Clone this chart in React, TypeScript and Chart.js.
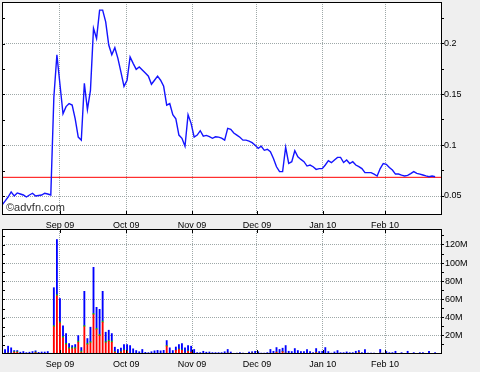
import React, { useEffect, useRef } from "react";
import { Chart, registerables } from "chart.js";
Chart.register(...registerables);

// Daily closing price (one value per trading day, Aug 09 .. Feb 10)
const closePrices: number[] = [
  0.041, 0.045, 0.049, 0.054, 0.05, 0.053, 0.052, 0.051, 0.049, 0.051,
  0.0527, 0.05, 0.0505, 0.051, 0.0527, 0.052, 0.051, 0.147, 0.189, 0.16,
  0.131, 0.138, 0.141, 0.1396, 0.126, 0.108, 0.105, 0.161, 0.135, 0.154,
  0.215, 0.205, 0.233, 0.233, 0.2215, 0.1986, 0.189, 0.196, 0.1855, 0.172,
  0.158, 0.164, 0.187, 0.1806, 0.1747, 0.177, 0.174, 0.171, 0.168, 0.16,
  0.164, 0.168, 0.164, 0.158, 0.1395, 0.141, 0.13, 0.126, 0.11, 0.1068,
  0.099, 0.13, 0.1215, 0.108, 0.11, 0.1143, 0.109, 0.1097, 0.1085, 0.1068,
  0.1083, 0.108, 0.107, 0.105, 0.1166, 0.1156, 0.112, 0.11, 0.1078, 0.105,
  0.105, 0.104, 0.1025, 0.1, 0.097, 0.099, 0.095, 0.096, 0.0936, 0.087,
  0.0788, 0.074, 0.074, 0.098, 0.082, 0.0838, 0.0946, 0.0887, 0.086, 0.0838,
  0.0795, 0.0805, 0.0788, 0.0762, 0.077, 0.077, 0.0805, 0.0848, 0.0828, 0.0855,
  0.088, 0.088, 0.083, 0.0855, 0.082, 0.0838, 0.0805, 0.079, 0.077, 0.073,
  0.073, 0.073, 0.0715, 0.0697, 0.077, 0.082, 0.0812, 0.078, 0.0756, 0.0716,
  0.0716, 0.0705, 0.0697, 0.0703, 0.072, 0.074, 0.0723, 0.0715, 0.0707, 0.0698,
  0.069, 0.0697, 0.069,
];

// Daily volume, millions (total, red part, green part)
const volTotal: number[] = [
  5, 5, 8.6, 6.8, 3.8, 3.8, 2, 2.7, 1.5, 2,
  2.7, 3.5, 1.8, 2.2, 2.2, 2.7, 0.8, 73, 126, 61,
  31, 22.5, 11.5, 9.3, 10.4, 20.3, 7.1, 69, 17, 29.5,
  95.4, 51.4, 49.2, 69, 24, 26.2, 22.5, 7.5, 5, 6.4,
  10.4, 10.4, 9.3, 5.7, 3.8, 2.5, 5, 1.8, 1.5, 2.5,
  3.5, 4, 3.5, 4, 14.8, 6.8, 3.8, 7.7, 10.4, 11.5,
  6.8, 9.3, 8.6, 5, 1.5, 1.5, 3, 2, 2.2, 1.5,
  1.5, 1.5, 1.5, 2.5, 5, 2.2, 0.8, 1, 1.5, 1,
  0, 2, 2.5, 3, 2.5, 1, 1, 1.5, 5, 3,
  7.1, 5, 6.4, 9.3, 3, 2.7, 6, 3.8, 2.7, 2.7,
  5, 2.7, 1.5, 6, 2.7, 3, 7.1, 2.7, 1, 2.3,
  3.8, 1.5, 1.5, 2.3, 1.5, 1.5, 3, 3.8, 1.5, 5,
  1, 1, 1, 0, 5, 1, 2.7, 1.5, 1.5, 3,
  0, 1.5, 0, 3, 0, 1.5, 0, 1.5, 1.5, 0,
  3, 0, 1.5,
];
const volRed: number[] = [
  1, 0.5, 1, 1, 2, 2, 0, 0, 0, 0,
  0, 1.5, 0, 0, 0, 0, 0, 30, 64, 34,
  17.8, 10.4, 5.7, 5.7, 6, 13, 2, 30, 10.4, 12.3,
  43.4, 27, 20.3, 35, 12.3, 14, 13, 2, 0, 2,
  4, 3, 0, 0, 0, 0, 0, 0, 0, 0,
  0, 0, 0, 0, 8.6, 0, 0, 4, 5, 4,
  1, 3, 2, 0, 0, 0, 0, 0, 0, 0,
  0, 0, 0, 0, 1, 0, 0, 0, 0, 0,
  0, 0, 1, 0, 0, 0, 0, 0, 0, 0,
  2, 0, 2.5, 1, 0, 0, 0, 0, 0, 0,
  0, 0, 0, 1.5, 0, 0, 0, 0, 0, 0,
  0, 0, 0, 0, 0, 0, 0, 1.5, 0, 0,
  0, 0, 0, 0, 1, 0, 0, 0, 0, 0,
  0, 0, 0, 0, 0, 0, 0, 0, 0, 0,
  0, 0, 0,
];
const volGreen: number[] = [
  0, 0, 0, 0, 0.6, 0.6, 0, 0, 0, 0,
  0, 0.6, 0, 0, 0, 0, 0, 1.3, 1.3, 1.3,
  1.3, 1.3, 1.3, 1.3, 1.3, 1.3, 1.3, 1.3, 1.3, 1.3,
  1.3, 1.3, 1.3, 1.3, 1.3, 1.3, 1.3, 0.6, 0, 0.6,
  0.6, 0.6, 0, 0, 0, 0, 0, 0, 0, 0,
  0, 0, 0, 0, 0.8, 0, 0, 0, 0.6, 0.6,
  0, 0.6, 0, 0, 0, 0, 0, 0, 0, 0,
  0, 0, 0, 0, 0, 0, 0, 0, 0, 0,
  0, 0, 0, 0, 0, 0, 0, 0, 0, 0,
  0, 0, 0, 0, 0, 0, 0, 0, 0, 0,
  0, 0, 0, 0, 0, 0, 0, 0, 0, 0,
  0, 0, 0, 0, 0, 0, 0, 0, 0, 0,
  0, 0, 0, 0, 0, 0, 0, 0, 0, 0,
  0, 0, 0, 0, 0, 0, 0, 0, 0, 0,
  0, 0, 0,
];

const lastPrice = 0.0684;
const monthLabels = ["Sep 09", "Oct 09", "Nov 09", "Dec 09", "Jan 10", "Feb 10"];
const monthStartIndex = [19.0, 40.7, 62.3, 83.6, 105.2, 125.6];
const priceMajorTicks = [0.05, 0.1, 0.15, 0.2];
const priceMinorTicks = [0.075, 0.125, 0.175, 0.225];
const volMajorTicks = [20, 40, 60, 80, 100, 120];
const volMinorTicks = [10, 30, 50, 70, 90, 110, 130];

const X_MAX = 144.26;
const PRICE_MIN = 0.0313;
const PRICE_MAX = 0.241;
const VOL_MAX = 137.6;

const FONT = { family: "'Liberation Sans', Arial, sans-serif", size: 9 };
const GRID = "#9ea8a8";
const CLEAR = "rgba(0,0,0,0)";

const setMonthTicks = (s: any) => {
  s.ticks = monthStartIndex.map((v) => ({ value: v }));
};
const noPadX = (h: number) => (s: any) => {
  s.height = h;
  s.paddingLeft = 0;
  s.paddingRight = 0;
};
const noPadY = (s: any) => {
  s.width = 38;
  s.paddingTop = 0;
  s.paddingBottom = 0;
};

const framePlugin = {
  id: "frame",
  beforeDraw(chart: any) {
    const { ctx, chartArea: a } = chart;
    ctx.save();
    ctx.fillStyle = "#ffffff";
    ctx.fillRect(a.left, a.top, a.right - a.left, a.bottom - a.top);
    ctx.restore();
  },
  afterDraw(chart: any, _args: any, opts: any) {
    const { ctx, chartArea: a } = chart;
    ctx.save();
    ctx.strokeStyle = "#000";
    ctx.lineWidth = 1;
    ctx.strokeRect(a.left + 0.5, a.top + 0.5, a.right - a.left - 1, a.bottom - a.top - 1);
    const xs = chart.scales.x;
    const ys = chart.scales.y;
    ctx.beginPath();
    for (const v of monthStartIndex) {
      const px = Math.round(xs.getPixelForValue(v)) + 0.5;
      if (opts.bottomTicks) {
        ctx.moveTo(px, a.bottom);
        ctx.lineTo(px, a.bottom - 4);
      }
      if (opts.topTicks) {
        ctx.moveTo(px, a.top);
        ctx.lineTo(px, a.top + 4);
      }
    }
    for (const v of opts.leftTicks || []) {
      const py = Math.round(ys.getPixelForValue(v)) + 0.5;
      ctx.moveTo(a.left, py);
      ctx.lineTo(a.left + 3, py);
    }
    ctx.stroke();
    if (opts.watermark) {
      ctx.fillStyle = "#333";
      ctx.font = "11px 'Liberation Sans', Arial, sans-serif";
      ctx.textBaseline = "alphabetic";
      ctx.textAlign = "left";
      ctx.fillText(opts.watermark, a.left + 4, a.bottom - 4);
    }
    ctx.restore();
  },
};

const monthAxis = (position: string, height: number, padding: number, showGrid: boolean) => ({
  type: "linear",
  display: true,
  position,
  offset: false,
  min: 0,
  max: X_MAX,
  afterBuildTicks: setMonthTicks,
  afterFit: noPadX(height),
  grid: { display: showGrid, offset: false, color: GRID, drawTicks: false },
  border: { display: false, dash: [1, 1] },
  ticks: {
    autoSkip: false,
    maxRotation: 0,
    minRotation: 0,
    padding,
    color: "#000",
    font: FONT,
    callback: (_v: any, i: number) => monthLabels[i],
  },
});

export default function App() {
  const priceRef = useRef<HTMLCanvasElement>(null);
  const volRef = useRef<HTMLCanvasElement>(null);

  useEffect(() => {
    const priceAll = [...priceMajorTicks, ...priceMinorTicks].sort((a, b) => a - b);
    const volAll = [...volMajorTicks, ...volMinorTicks].sort((a, b) => a - b);

    const c1 = new Chart(priceRef.current as HTMLCanvasElement, {
      type: "line",
      data: {
        datasets: [
          {
            data: closePrices.map((v, i) => ({ x: i, y: v })),
            borderColor: "#1414ff",
            borderWidth: 1.4,
            pointRadius: 0,
            tension: 0,
            order: 0,
          },
          {
            data: [
              { x: 0, y: lastPrice },
              { x: X_MAX, y: lastPrice },
            ],
            borderColor: "#ff0000",
            borderWidth: 1,
            pointRadius: 0,
            order: 1,
          },
        ],
      },
      options: {
        animation: false,
        responsive: false,
        devicePixelRatio: 1,
        events: [],
        layout: { padding: { left: 2, top: 2, right: 0, bottom: 3 } },
        plugins: {
          legend: { display: false },
          tooltip: { enabled: false },
          frame: { bottomTicks: true, topTicks: false, leftTicks: priceAll, watermark: "©advfn.com" },
        } as any,
        scales: {
          x: { ...monthAxis("bottom", 0, 0, true), ticks: { display: false } },
          y: {
            type: "linear",
            position: "right",
            min: PRICE_MIN,
            max: PRICE_MAX,
            afterBuildTicks: (s: any) => {
              s.ticks = priceAll.map((v) => ({ value: v }));
            },
            afterFit: noPadY,
            grid: {
              color: (c: any) => (c.tick && priceMajorTicks.includes(c.tick.value) ? GRID : CLEAR),
              tickColor: "#000",
              tickLength: 2,
              drawTicks: true,
            },
            border: { display: false, dash: [1, 1] },
            ticks: {
              autoSkip: false,
              padding: 0,
              color: "#000",
              font: FONT,
              callback: (v: any) => (priceMajorTicks.includes(v) ? String(Number(v.toFixed(3))) : ""),
            },
          },
        },
      },
      plugins: [framePlugin],
    } as any);

    const c2 = new Chart(volRef.current as HTMLCanvasElement, {
      type: "bar",
      data: {
        datasets: [
          {
            data: volRed.map((v, i) => ({ x: i, y: v })),
            backgroundColor: "#ff0000",
          },
          {
            data: volGreen.map((v, i) => ({ x: i, y: v })),
            backgroundColor: "#00c000",
          },
          {
            data: volTotal.map((v, i) => ({ x: i, y: Math.max(0, v - volRed[i] - volGreen[i]) })),
            backgroundColor: "#0000ff",
          },
        ].map((d) => ({ ...d, barThickness: 1.2, borderWidth: 0, xAxisID: "x", yAxisID: "y" })),
      },
      options: {
        animation: false,
        responsive: false,
        devicePixelRatio: 1,
        events: [],
        layout: { padding: { left: 2, top: 0, right: 0, bottom: 0 } },
        plugins: {
          legend: { display: false },
          tooltip: { enabled: false },
          frame: { bottomTicks: true, topTicks: true, leftTicks: volAll, watermark: "" },
        } as any,
        scales: {
          x: { ...monthAxis("bottom", 18, 5.5, true), stacked: true },
          xTop: { ...monthAxis("top", 11, -1.5, false), axis: "x" },
          y: {
            type: "linear",
            position: "right",
            stacked: true,
            min: 0,
            max: VOL_MAX,
            afterBuildTicks: (s: any) => {
              s.ticks = volAll.map((v) => ({ value: v }));
            },
            afterFit: noPadY,
            grid: {
              color: (c: any) => (c.tick && volMajorTicks.includes(c.tick.value) ? GRID : CLEAR),
              tickColor: "#000",
              tickLength: 2,
              drawTicks: true,
            },
            border: { display: false, dash: [1, 1] },
            ticks: {
              autoSkip: false,
              padding: 1,
              color: "#000",
              font: FONT,
              callback: (v: any) => (volMajorTicks.includes(v) ? `${v}M` : ""),
            },
          },
        },
      },
      plugins: [framePlugin],
    } as any);

    return () => {
      c1.destroy();
      c2.destroy();
    };
  }, []);

  return (
    <div
      style={{
        position: "absolute",
        left: 0,
        top: 0,
        width: 480,
        height: 372,
        background: "#efefef",
        overflow: "hidden",
      }}
    >
      <canvas
        ref={priceRef}
        width={480}
        height={218}
        style={{ position: "absolute", left: 0, top: 0, width: 480, height: 218 }}
      />
      <canvas
        ref={volRef}
        width={480}
        height={154}
        style={{ position: "absolute", left: 0, top: 218, width: 480, height: 154 }}
      />
    </div>
  );
}
